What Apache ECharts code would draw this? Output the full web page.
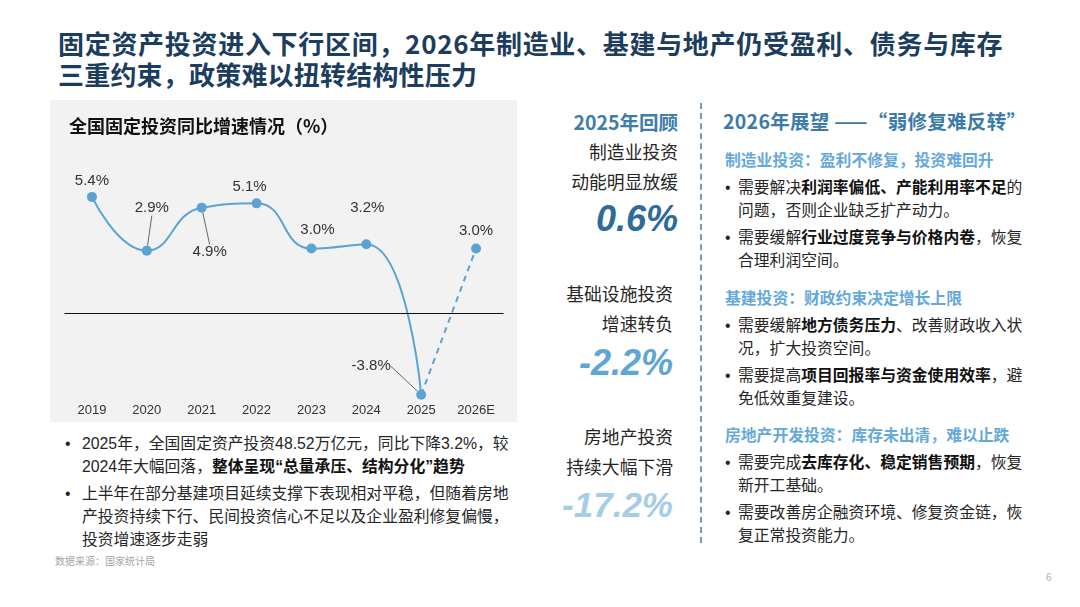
<!DOCTYPE html>
<html>
<head>
<meta charset="utf-8">
<script src="https://cdn.jsdelivr.net/npm/echarts/dist/echarts.min.js"></script>
<style>
  html, body { margin:0; padding:0; width:1080px; height:607px; background:#fff; overflow:hidden; }
  body { position:relative; font-family:"Liberation Sans","Noto Sans CJK SC",sans-serif; color:#262626; }
  .abs { position:absolute; white-space:nowrap; }
  .title { left:58px; top:26.5px; font-size:26px; line-height:31px; font-weight:bold; color:#1c3d5e; font-family:"Noto Sans CJK SC",sans-serif; }
  .t1 { letter-spacing:0.7px; }
  .t2 { letter-spacing:0.2px; }
  #chartBox { position:absolute; left:50px; top:100px; width:467px; height:322px; background:#f2f2f2; }
  #chart { width:467px; height:322px; }
  .para { position:relative; padding-left:17px; font-size:15.8px; line-height:23px; margin-top:4px; }
  .para:first-child { margin-top:0; }
  .para .dot { position:absolute; left:0; top:0; }
  .para b { color:#111; }
  .rpara { padding-left:13px; }
  .src { left:55px; top:555px; font-size:10px; line-height:14px; color:#a6a6a6; }
  .rev { right:402px; text-align:right; }
  .revh { font-size:19.5px; line-height:26px; font-weight:bold; color:#3d7eaa; font-family:"Noto Sans CJK SC",sans-serif; }
  .revt { font-size:17.8px; line-height:30px; color:#262626; }
  .big { font-size:36px; line-height:40px; font-weight:bold; font-style:italic; }
  .sec { left:725px; }
  .sech { font-size:15.8px; line-height:23px; font-weight:bold; color:#65a9da; }
  .outh { left:723px; top:108px; font-size:19.5px; line-height:26px; font-weight:bold; color:#3c7aa8; font-family:"Noto Sans CJK SC",sans-serif; letter-spacing:0.3px; }
  .vline { position:absolute; left:700px; top:103px; height:440px; border-left:2px dashed #6f9cc2; }
  .pnum { left:1046px; top:571px; font-size:10px; line-height:14px; color:#b0b0b0; }
</style>
</head>
<body>
<div class="abs title"><span class="t1">固定资产投资进入下行区间，2026年制造业、基建与地产仍受盈利、债务与库存</span><br><span class="t2">三重约束，政策难以扭转结构性压力</span></div>

<div id="chartBox"><div id="chart"></div></div>

<div class="abs" style="left:65px; top:431.5px;">
  <div class="para"><span class="dot">•</span>2025年，全国固定资产投资48.52万亿元，同比下降3.2%，较<br>2024年大幅回落，<b>整体呈现“总量承压、结构分化”趋势</b></div>
  <div class="para"><span class="dot">•</span>上半年在部分基建项目延续支撑下表现相对平稳，但随着房地<br>产投资持续下行、民间投资信心不足以及企业盈利修复偏慢，<br>投资增速逐步走弱</div>
</div>
<div class="abs src">数据来源：国家统计局</div>

<div class="abs rev revh" style="top:109px;">2025年回顾</div>
<div class="abs rev revt" style="top:138px;">制造业投资<br>动能明显放缓</div>
<div class="abs rev big" style="top:199px; color:#2e6b98;">0.6%</div>
<div class="abs revt" style="right:407px; text-align:right; top:280px;">基础设施投资<br>增速转负</div>
<div class="abs big" style="right:407px; text-align:right; top:343px; color:#5ea6d6;">-2.2%</div>
<div class="abs revt" style="right:407px; text-align:right; top:423px;">房地产投资<br>持续大幅下滑</div>
<div class="abs big" style="right:407px; text-align:right; top:485px; color:#a6cde6; font-size:35px;">-17.2%</div>

<div class="vline"></div>

<div class="abs outh">2026年展望 ——“弱修复难反转”</div>

<div class="abs sec" style="top:148.5px;">
  <div class="sech">制造业投资：盈利不修复，投资难回升</div>
  <div class="para rpara"><span class="dot">•</span>需要解决<b>利润率偏低、产能利用率不足</b>的<br>问题，否则企业缺乏扩产动力。</div>
  <div class="para rpara"><span class="dot">•</span>需要缓解<b>行业过度竞争与价格内卷</b>，恢复<br>合理利润空间。</div>
</div>
<div class="abs sec" style="top:286.5px;">
  <div class="sech">基建投资：财政约束决定增长上限</div>
  <div class="para rpara"><span class="dot">•</span>需要缓解<b>地方债务压力</b>、改善财政收入状<br>况，扩大投资空间。</div>
  <div class="para rpara"><span class="dot">•</span>需要提高<b>项目回报率与资金使用效率</b>，避<br>免低效重复建设。</div>
</div>
<div class="abs sec" style="top:423.5px;">
  <div class="sech">房地产开发投资：库存未出清，难以止跌</div>
  <div class="para rpara"><span class="dot">•</span>需要完成<b>去库存化、稳定销售预期</b>，恢复<br>新开工基础。</div>
  <div class="para rpara"><span class="dot">•</span>需要改善房企融资环境、修复资金链，恢<br>复正常投资能力。</div>
</div>

<div class="abs pnum">6</div>

<script>
// ---- data ----
const categories = ['2019', '2020', '2021', '2022', '2023', '2024', '2025', '2026E'];
const actualValues = [5.4, 2.9, 4.9, 5.1, 3.0, 3.2, -3.8];   // 2019-2025
const forecastValues = [-3.8, 3.0];                         // 2025 -> 2026E

// ---- label style (pixel offsets for label placement) ----
const labelShift = [[0, 1], [5, -25], [8, 27], [-7, 1], [6, -1], [1, -19], [-50, -11], [0, 0]];
const leaderIdx = [1, 2, 6];

const lineColor = '#5ba3d3';
const labelFont = { fontSize: 15, color: '#333', fontFamily: 'Liberation Sans' };

const solidData = actualValues.map((v, i) => ({
  value: v,
  label: { position: i === 2 ? 'bottom' : 'top' },
  labelLine: { show: leaderIdx.indexOf(i) >= 0 }
}));
const nSolid = actualValues.length;
const dashedData = categories.map((c, i) => {
  const k = i - (nSolid - 1);
  if (k < 0) return '-';
  return {
    value: forecastValues[k],
    symbol: k === 0 ? 'none' : 'circle',
    label: { show: k > 0 }
  };
});

const chart = echarts.init(document.getElementById('chart'));
chart.setOption({
  animation: false,
  backgroundColor: 'transparent',
  title: {
    text: '全国固定投资同比增速情况（%）',
    left: 14, top: 12,
    textStyle: { fontSize: 18, fontWeight: 'bold', color: '#111', fontFamily: 'Noto Sans CJK SC' }
  },
  grid: { left: 14.5, right: 13.5, top: 84, bottom: 23 },
  xAxis: {
    type: 'category', data: categories, boundaryGap: true,
    axisLine: { show: false }, axisTick: { show: false },
    axisLabel: { color: '#333', fontSize: 13, margin: 5, fontFamily: 'Liberation Sans' }
  },
  yAxis: {
    type: 'value', min: -4, max: 6, interval: 2,
    axisLine: { show: false }, axisLabel: { show: false }, axisTick: { show: false }, splitLine: { show: false }
  },
  series: [
    {
      type: 'line', data: solidData, smooth: 0.5,
      symbol: 'circle', symbolSize: 10,
      lineStyle: { color: lineColor, width: 2 },
      itemStyle: { color: lineColor },
      label: Object.assign({ show: true, formatter: p => p.value.toFixed(1) + '%' }, labelFont),
      labelLine: { show: false, lineStyle: { color: '#444', width: 0.8 } },
      labelLayout: p => ({ dx: labelShift[p.dataIndex][0], dy: labelShift[p.dataIndex][1] }),
      markLine: {
        silent: true, symbol: 'none', label: { show: false },
        lineStyle: { color: '#111', width: 1, type: 'solid' },
        data: [{ yAxis: 0 }]
      },
      z: 3
    },
    {
      type: 'line', data: dashedData, smooth: false,
      symbol: 'circle', symbolSize: 10,
      lineStyle: { color: lineColor, width: 2, type: [6, 5] },
      itemStyle: { color: lineColor },
      label: Object.assign({ show: false, position: 'top', formatter: p => p.value.toFixed(1) + '%' }, labelFont),
      labelLayout: p => ({ dx: labelShift[p.dataIndex][0], dy: labelShift[p.dataIndex][1] }),
      z: 2
    }
  ]
});
</script>
</body>
</html>
